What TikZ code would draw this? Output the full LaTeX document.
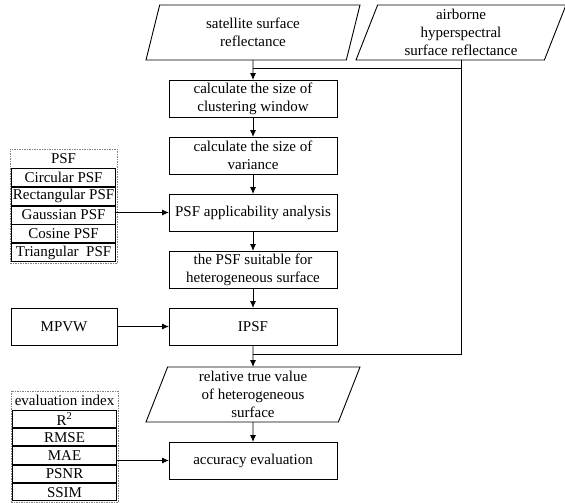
\documentclass[tikz,border=0pt]{standalone}
\usepackage{fontspec}
\setmainfont{Liberation Serif}
\usetikzlibrary{positioning,shapes.geometric,fit,calc,arrows.meta}

\begin{document}
\begin{tikzpicture}[
                x=1pt, y=-1pt,
                node distance=20pt,
                line width=0.9pt,
                every node/.append style={font=\fontsize{15}{18}\selectfont, align=center, inner sep=1pt},
                box/.style={draw, outer sep=0pt, minimum width=168pt, minimum height=37pt},
                para/.style={draw, outer sep=0pt, trapezium, trapezium left angle=66, trapezium right angle=114,
                    trapezium stretches body, minimum width=214pt, minimum height=55pt},
                cell/.style={draw, minimum width=104pt, minimum height=18pt, inner sep=0pt},
                head/.style={minimum width=104pt, minimum height=17pt, inner sep=0pt},
                group/.style={draw, gray, dash pattern=on 1.5pt off 1pt, line width=0.6pt, inner sep=1pt},
                arr/.style={-{Latex[length=7pt,width=6pt]}}
            ]
                \useasboundingbox (0,0) rectangle (565,503);
                % main column
                \node (sat)  [para] at (253,32.5)        {satellite surface\\reflectance};
                \node (air)  [para, minimum width=210pt] at (461,32.5) {airborne\\hyperspectral\\surface reflectance};
                \node (win)  [box, below=of sat]         {calculate the size of\\clustering window};
                \node (var)  [box, below=of win]         {calculate the size of\\variance};
                \node (ana)  [box, below=of var]         {PSF applicability analysis};
                \node (suit) [box, below=of ana]         {the PSF suitable for\\heterogeneous surface};
                \node (ipsf) [box, below=of suit]        {IPSF};
                \node (rtv)  [para, below=22pt of ipsf]  {relative true value\\of heterogeneous\\surface};
                \node (acc)  [box, below=of rtv]         {accuracy evaluation};
                % left inputs
                \node (mpvw) [box, minimum width=106pt, left=52pt of ipsf] {MPVW};
                \node (gauss)   [cell, left=53pt of ana, yshift=-2.5pt] {Gaussian PSF};
                \node (rect)    [cell, above=0pt of gauss]   {Rectangular PSF};
                \node (circ)    [cell, above=0pt of rect]    {Circular PSF};
                \node (psfhead) [head, above=0pt of circ]    {PSF};
                \node (cos)     [cell, below=0pt of gauss]   {Cosine PSF};
                \node (tri)     [cell, below=0pt of cos]     {Triangular~ PSF};
                \node (psf)     [group, fit=(psfhead)(tri)]  {};
                \node (mae)      [cell, minimum height=17.4pt, left=52pt of acc, yshift=5pt] {MAE};
                \node (rmse)     [cell, minimum height=17.4pt, above=0pt of mae]  {RMSE};
                \node (rsq)      [cell, minimum height=17.4pt, above=0pt of rmse] {R\textsuperscript{2}};
                \node (evalhead) [head, above=0pt of rsq]                         {evaluation index};
                \node (psnr)     [cell, minimum height=17.4pt, below=0pt of mae]  {PSNR};
                \node (ssim)     [cell, minimum height=17.4pt, below=0pt of psnr] {SSIM};
                \node (eval)     [group, fit=(evalhead)(ssim)] {};
                % connectors
                \coordinate (top) at ($(sat.south)!0.4!(win.north)$);
                \coordinate (bot) at ($(ipsf.south)!0.45!(rtv.north)$);
                \draw (air.south) |- (top);
                \draw (air.south) |- (bot);
                \draw[arr] (sat) -- (win);
                \draw[arr] (win) -- (var);
                \draw[arr] (var) -- (ana);
                \draw[arr] (ana) -- (suit);
                \draw[arr] (suit) -- (ipsf);
                \draw[arr] (ipsf) -- (rtv);
                \draw[arr] (rtv) -- (acc);
                \draw[arr] (gauss.east |- ana) -- (ana);
                \draw[arr] (mpvw) -- (ipsf);
                \draw[arr] (mae.east |- acc) -- (acc);
            \end{tikzpicture}
\end{document}
